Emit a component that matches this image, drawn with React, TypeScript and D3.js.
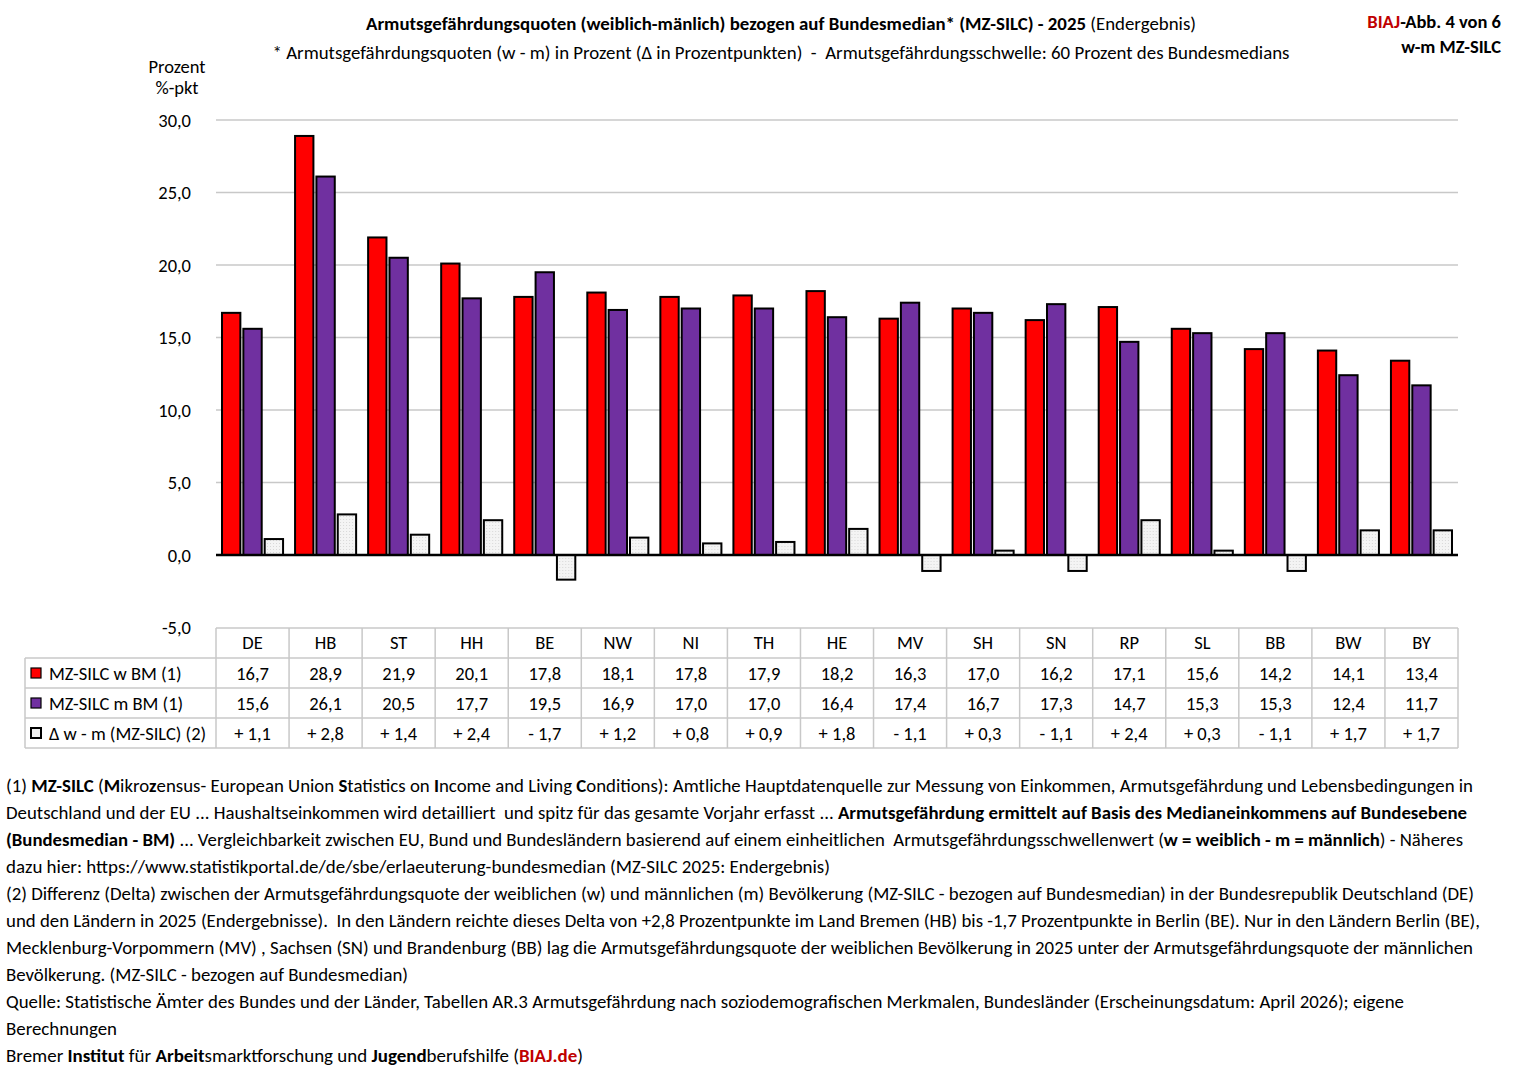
import React from "react";
import * as d3 from "d3";

const categories = ["DE","HB","ST","HH","BE","NW","NI","TH","HE","MV","SH","SN","RP","SL","BB","BW","BY"];
const womenValues = [16.7,28.9,21.9,20.1,17.8,18.1,17.8,17.9,18.2,16.3,17.0,16.2,17.1,15.6,14.2,14.1,13.4];
const menValues = [15.6,26.1,20.5,17.7,19.5,16.9,17.0,17.0,16.4,17.4,16.7,17.3,14.7,15.3,15.3,12.4,11.7];
const deltaValues = [1.1,2.8,1.4,2.4,-1.7,1.2,0.8,0.9,1.8,-1.1,0.3,-1.1,2.4,0.3,-1.1,1.7,1.7];
const yTicks = [-5,0,5,10,15,20,25,30];
const seriesNames = ["MZ-SILC w BM (1)","MZ-SILC m BM (1)","\u0394 w - m (MZ-SILC) (2)"];
const seriesColors = ["#ff0000","#7030a0","#efefef"];

const FONT = "Carlito, Calibri, Lato, sans-serif";
const FS = 18.5;

type Seg = [string, boolean?, string?];
const footLines: { segs: Seg[]; end: number }[] = [
  { segs: [["(1) "],["MZ-SILC",true],[" ("],["M",true],["ikro"],["z",true],["ensus- European Union "],["S",true],["tatistics on "],["I",true],["ncome and Living "],["C",true],["onditions): Amtliche Hauptdatenquelle zur Messung von Einkommen, Armutsgefährdung und Lebensbedingungen in"]], end: 1473 },
  { segs: [["Deutschland und der EU ... Haushaltseinkommen wird detailliert  und spitz für das gesamte Vorjahr erfasst ... "],["Armutsgefährdung ermittelt auf Basis des Medianeinkommens auf Bundesebene",true]], end: 1467 },
  { segs: [["(Bundesmedian - BM)",true],[" ... Vergleichbarkeit zwischen EU, Bund und Bundesländern basierend auf einem einheitlichen  Armutsgefährdungsschwellenwert ("],["w = weiblich - m = männlich",true],[") - Näheres"]], end: 1463 },
  { segs: [["dazu hier: https://www.statistikportal.de/de/sbe/erlaeuterung-bundesmedian (MZ-SILC 2025: Endergebnis)"]], end: 830 },
  { segs: [["(2) Differenz (Delta) zwischen der Armutsgefährdungsquote der weiblichen (w) und männlichen (m) Bevölkerung (MZ-SILC - bezogen auf Bundesmedian) in der Bundesrepublik Deutschland (DE)"]], end: 1474 },
  { segs: [["und den Ländern in 2025 (Endergebnisse).  In den Ländern reichte dieses Delta von +2,8 Prozentpunkte im Land Bremen (HB) bis -1,7 Prozentpunkte in Berlin (BE). Nur in den Ländern Berlin (BE),"]], end: 1480 },
  { segs: [["Mecklenburg-Vorpommern (MV) , Sachsen (SN) und Brandenburg (BB) lag die Armutsgefährdungsquote der weiblichen Bevölkerung in 2025 unter der Armutsgefährdungsquote der männlichen"]], end: 1473 },
  { segs: [["Bevölkerung. (MZ-SILC - bezogen auf Bundesmedian)"]], end: 408 },
  { segs: [["Quelle: Statistische Ämter des Bundes und der Länder, Tabellen AR.3 Armutsgefährdung nach soziodemografischen Merkmalen, Bundesländer (Erscheinungsdatum: April 2026); eigene"]], end: 1404 },
  { segs: [["Berechnungen"]], end: 117 },
  { segs: [["Bremer "],["Institut",true],[" für "],["Arbeit",true],["smarktforschung und "],["Jugend",true],["berufshilfe ("],["BIAJ.de",true,"#c00000"],[")"]], end: 583 },
];

const fmt = (v: number) => v.toFixed(1).replace(".", ",");
const fmtDelta = (v: number) => (v >= 0 ? "+ " : "- ") + fmt(Math.abs(v));

export default function App() {
  const W = 1517, H = 1074;
  const left = 216, right = 1458;
  const y = d3.scaleLinear().domain([-5, 30]).range([627.5, 120]);
  const x = d3.scaleBand<string>().domain(categories).range([left, right]);
  const bw = x.bandwidth();
  const x1 = d3.scaleBand<number>().domain([0, 1, 2]).range([6, bw - 6]).paddingInner(0.14);
  const series = [womenValues, menValues, deltaValues];

  const tableTop = 628, rowH = 30;
  const tableLeft = 25;
  const pre = { whiteSpace: "pre" as const };

  return (
    <svg width={W} height={H} style={{ display: "block", position: "absolute", left: 0, top: 0 }} fontFamily={FONT}>
      <rect width={W} height={H} fill="#fff" />
      <defs>
        <pattern id="dots" width="3" height="3" patternUnits="userSpaceOnUse">
          <rect width="3" height="3" fill="#f4f4f4" />
          <rect width="1" height="1" fill="#d8d8d8" />
        </pattern>
      </defs>
      {/* Titles */}
      <text x={781} y={30} textAnchor="middle" fontSize={FS} fill="#000" textLength={830} lengthAdjust="spacingAndGlyphs">
        <tspan fontWeight="bold">Armutsgefährdungsquoten (weiblich-mänlich) bezogen auf Bundesmedian* (MZ-SILC) - 2025</tspan>
        <tspan> (Endergebnis)</tspan>
      </text>
      <text x={781} y={59} textAnchor="middle" fontSize={FS} fill="#000" style={pre} textLength={1017} lengthAdjust="spacingAndGlyphs">
        {"* Armutsgefährdungsquoten (w - m) in Prozent (Δ in Prozentpunkten)  -  Armutsgefährdungsschwelle: 60 Prozent des Bundesmedians"}
      </text>
      <text x={1501} y={28} textAnchor="end" fontSize={FS} fontWeight="bold">
        <tspan fill="#c00000">BIAJ</tspan><tspan fill="#000">-Abb. 4 von 6</tspan>
      </text>
      <text x={1501} y={53} textAnchor="end" fontSize={FS} fontWeight="bold" fill="#000">w-m MZ-SILC</text>
      <text x={177} y={73} textAnchor="middle" fontSize={FS}>Prozent</text>
      <text x={177} y={94} textAnchor="middle" fontSize={FS}>%-pkt</text>

      {/* Grid */}
      {yTicks.filter(t => t > 0).map(t => (
        <line key={t} x1={left} x2={right} y1={y(t)} y2={y(t)} stroke="#c8c8c8" strokeWidth={1.5} />
      ))}
      {yTicks.map(t => (
        <text key={"l" + t} x={191} y={y(t) + 6.5} textAnchor="end" fontSize={FS}>{fmt(t)}</text>
      ))}

      {/* Bars */}
      {categories.map((c, i) => (
        <g key={c} transform={`translate(${x(c)},0)`}>
          {series.map((s, k) => {
            const v = s[i];
            const y0 = y(0), yv = y(v);
            return (
              <rect key={k} x={x1(k)} width={x1.bandwidth()} y={Math.min(y0, yv)} height={Math.abs(yv - y0)}
                fill={k === 2 ? "url(#dots)" : seriesColors[k]} stroke="#000" strokeWidth={2} />
            );
          })}
        </g>
      ))}
      <line x1={left} x2={right} y1={y(0)} y2={y(0)} stroke="#000" strokeWidth={2.5} />

      {/* Table */}
      <g stroke="#c8c8c8" strokeWidth={1.5} fill="none">
        <line x1={left} x2={right} y1={tableTop} y2={tableTop} />
        {[1, 2, 3, 4].map(r => (
          <line key={r} x1={tableLeft} x2={right} y1={tableTop + r * rowH} y2={tableTop + r * rowH} />
        ))}
        <line x1={tableLeft} x2={tableLeft} y1={tableTop + rowH} y2={tableTop + 4 * rowH} />
        {categories.map(c => (
          <line key={c} x1={x(c)!} x2={x(c)!} y1={tableTop} y2={tableTop + 4 * rowH} />
        ))}
        <line x1={right} x2={right} y1={tableTop} y2={tableTop + 4 * rowH} />
      </g>
      {categories.map((c, i) => (
        <g key={"t" + c} fontSize={FS} textAnchor="middle">
          <text x={x(c)! + bw / 2} y={tableTop + 21}>{c}</text>
          <text x={x(c)! + bw / 2} y={tableTop + rowH + 22}>{fmt(womenValues[i])}</text>
          <text x={x(c)! + bw / 2} y={tableTop + 2 * rowH + 22}>{fmt(menValues[i])}</text>
          <text x={x(c)! + bw / 2} y={tableTop + 3 * rowH + 22}>{fmtDelta(deltaValues[i])}</text>
        </g>
      ))}
      {seriesNames.map((n, k) => (
        <g key={n}>
          <rect x={31} y={tableTop + (k + 1) * rowH + 10} width={10} height={10}
            fill={k === 2 ? "#efefef" : seriesColors[k]} stroke="#000" strokeWidth={k === 2 ? 2 : 1.2} />
          <text x={49} y={tableTop + (k + 1) * rowH + 22} fontSize={FS}>{n}</text>
        </g>
      ))}

      {/* Footnotes */}
      {footLines.map((l, i) => (
        <text key={i} x={6} y={792 + i * 27} fontSize={FS} textLength={l.end - 6} lengthAdjust="spacingAndGlyphs" fill="#000" style={pre}>
          {l.segs.map((s, j) => (
            <tspan key={j} fontWeight={s[1] ? "bold" : "normal"} fill={s[2] || "#000"}>{s[0]}</tspan>
          ))}
        </text>
      ))}
    </svg>
  );
}
